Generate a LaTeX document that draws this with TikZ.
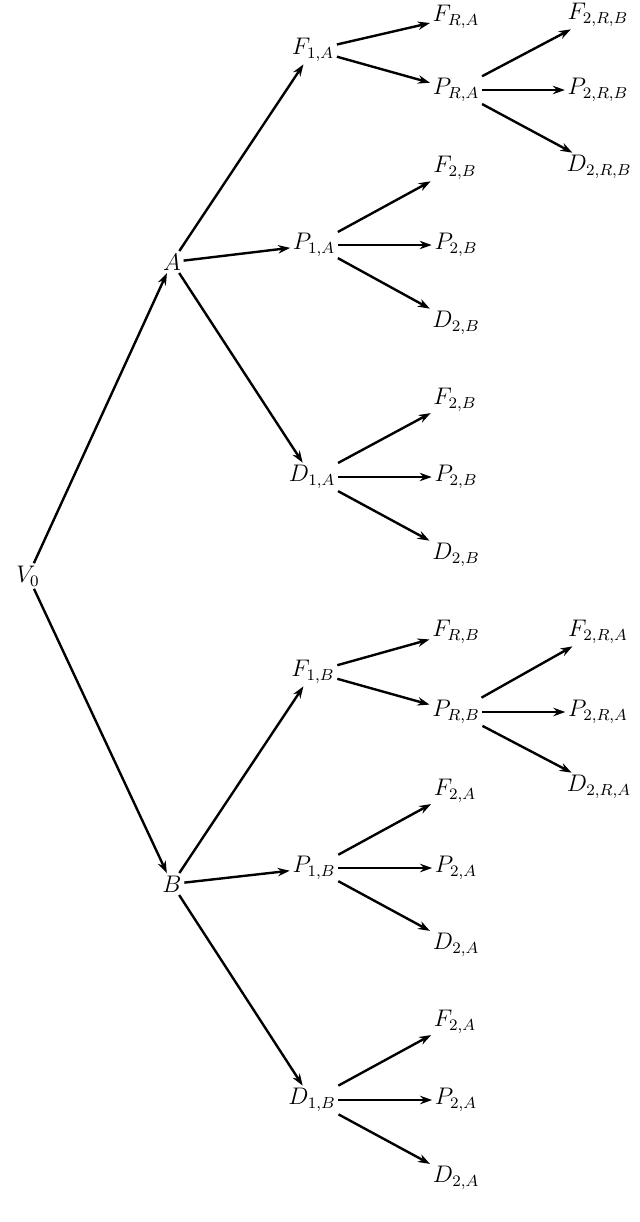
\documentclass[tikz,border=0pt]{standalone}
\usetikzlibrary{arrows.meta}
\begin{document}
\begin{tikzpicture}[x=0.5pt,y=-0.5pt,
  lbl/.style={inner sep=1.2pt,font=\fontsize{11.6pt}{14pt}\selectfont},
  arr/.style={-{Stealth[length=6pt,width=4.2pt]},line width=1.2pt}]
\useasboundingbox (0,0) rectangle (640,1222);
% level 0/1
\node[lbl] (V0) at (28,576) {$V_0$};
\node[lbl] (A) at (172,262) {$A$};
\node[lbl] (B) at (172,884) {$B$};
% A branch
\node[lbl] (F1A) at (313,50) {$F_{1,A}$};
\node[lbl] (P1A) at (314,245) {$P_{1,A}$};
\node[lbl] (D1A) at (312,477) {$D_{1,A}$};
\node[lbl] (FRA) at (456,17) {$F_{R,A}$};
\node[lbl] (PRA) at (456,90) {$P_{R,A}$};
\node[lbl] (F2RB) at (598,15) {$F_{2,R,B}$};
\node[lbl] (P2RB) at (598,90) {$P_{2,R,B}$};
\node[lbl] (D2RB) at (599,167) {$D_{2,R,B}$};
\node[lbl] (F2Ba) at (455,168) {$F_{2,B}$};
\node[lbl] (P2Ba) at (456,245) {$P_{2,B}$};
\node[lbl] (D2Ba) at (456,323) {$D_{2,B}$};
\node[lbl] (F2Bb) at (455,400) {$F_{2,B}$};
\node[lbl] (P2Bb) at (456,477) {$P_{2,B}$};
\node[lbl] (D2Bb) at (456,555) {$D_{2,B}$};
% B branch
\node[lbl] (F1B) at (313,672) {$F_{1,B}$};
\node[lbl] (P1B) at (314,868) {$P_{1,B}$};
\node[lbl] (D1B) at (312,1100) {$D_{1,B}$};
\node[lbl] (FRB) at (456,632) {$F_{R,B}$};
\node[lbl] (PRB) at (456,712) {$P_{R,B}$};
\node[lbl] (F2RA) at (598,632) {$F_{2,R,A}$};
\node[lbl] (P2RA) at (598,712) {$P_{2,R,A}$};
\node[lbl] (D2RA) at (599,787) {$D_{2,R,A}$};
\node[lbl] (F2Aa) at (455,791) {$F_{2,A}$};
\node[lbl] (P2Aa) at (456,868) {$P_{2,A}$};
\node[lbl] (D2Aa) at (456,945) {$D_{2,A}$};
\node[lbl] (F2Ab) at (455,1022) {$F_{2,A}$};
\node[lbl] (P2Ab) at (456,1100) {$P_{2,A}$};
\node[lbl] (D2Ab) at (456,1178) {$D_{2,A}$};
% connectors
\draw[arr] (V0) -- (A);
\draw[arr] (V0) -- (B);
\foreach \s/\t in {A/F1A,A/P1A,A/D1A,F1A/FRA,F1A/PRA,PRA/F2RB,PRA/P2RB,PRA/D2RB,
  P1A/F2Ba,P1A/P2Ba,P1A/D2Ba,D1A/F2Bb,D1A/P2Bb,D1A/D2Bb,
  B/F1B,B/P1B,B/D1B,F1B/FRB,F1B/PRB,PRB/F2RA,PRB/P2RA,PRB/D2RA,
  P1B/F2Aa,P1B/P2Aa,P1B/D2Aa,D1B/F2Ab,D1B/P2Ab,D1B/D2Ab}
  \draw[arr] (\s) -- (\t);
\end{tikzpicture}
\end{document}
